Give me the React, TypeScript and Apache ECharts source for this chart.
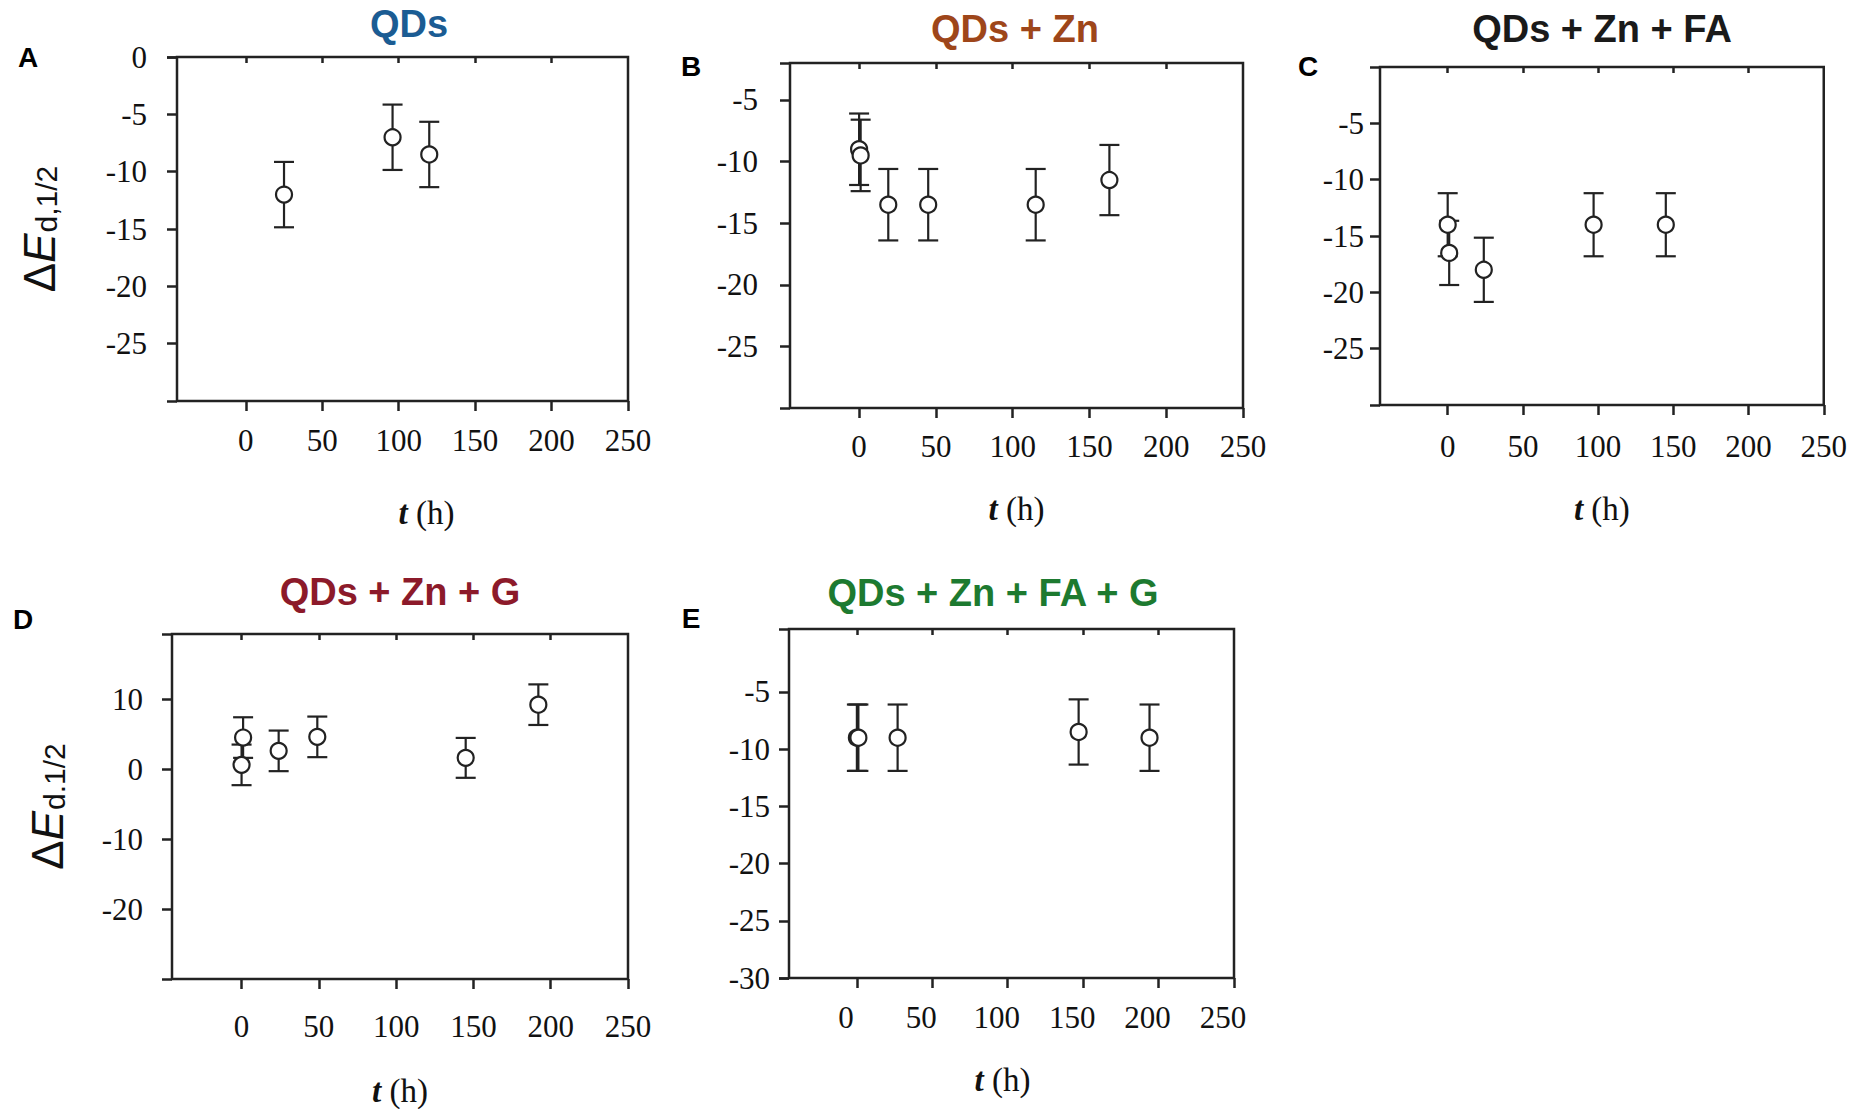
import React, { useEffect, useRef } from "react";
import * as echarts from "echarts";

// ---------- data ----------
const xTickValues = [0, 50, 100, 150, 200, 250];
const topTickValues = [0, 50, 100, 150, 200];

// A: QDs
const timeA = [25, 96, 120];
const valueA = [-12, -7, -8.5];
const errorA = [2.85, 2.85, 2.85];
const yLabelsA = [0, -5, -10, -15, -20, -25];

// B: QDs + Zn
const timeB = [0, 1, 19, 45, 115, 163];
const valueB = [-9, -9.5, -13.5, -13.5, -13.5, -11.5];
const errorB = [2.9, 2.9, 2.9, 2.9, 2.9, 2.85];
const yLabelsB = [-5, -10, -15, -20, -25];

// C: QDs + Zn + FA
const timeC = [0, 1, 24, 97, 145];
const valueC = [-14, -16.5, -18, -14, -14];
const errorC = [2.8, 2.85, 2.85, 2.8, 2.8];
const yLabelsC = [-5, -10, -15, -20, -25];

// D: QDs + Zn + G
const timeD = [1, 0, 24, 49, 145, 192];
const valueD = [4.5, 0.6, 2.6, 4.6, 1.6, 9.2];
const errorD = [2.9, 2.9, 2.9, 2.9, 2.85, 2.9];
const yLabelsD = [10, 0, -10, -20];

// E: QDs + Zn + FA + G
const timeE = [0, 1, 27, 147, 194];
const valueE = [-9, -9, -9, -8.5, -9];
const errorE = [2.9, 2.9, 2.9, 2.85, 2.9];
const yLabelsE = [-5, -10, -15, -20, -25, -30];

// ---------- styling / layout ----------
const SERIF = '"Liberation Serif", "Times New Roman", serif';
const SANS = '"Liberation Sans", Arial, sans-serif';
const INK = "#222222";
const X_MIN = -45;
const X_MAX = 250;

type Panel = {
  letter: string;
  title: string;
  titleColor: string;
  time: number[];
  value: number[];
  err: number[];
  yMin: number;
  yMax: number;
  yLabels: number[];
  grid: { left: number; top: number; width: number; height: number };
  titlePos: [number, number];
  letterPos: [number, number];
  yLabelMargin: number;
  xLabelMargin: number;
  xLabelPad: number[];
  xNameGap: number;
  xNamePad: number[];
  yName?: string;
  yNameGap?: number;
};

const panels: Panel[] = [
  {
    letter: "A", title: "QDs", titleColor: "#1b5c93",
    time: timeA, value: valueA, err: errorA,
    yMin: -30, yMax: 0, yLabels: yLabelsA,
    grid: { left: 177, top: 57, width: 451, height: 344 },
    titlePos: [409, 24], letterPos: [28, 57],
    yLabelMargin: 30, xLabelMargin: 24, xLabelPad: [0, 0, 0, 0],
    xNameGap: 95, xNamePad: [0, 0, 0, 48],
    yName: "{d|Δ}{e|E}{s|d,1/2}", yNameGap: 116,
  },
  {
    letter: "B", title: "QDs + Zn", titleColor: "#9e461a",
    time: timeB, value: valueB, err: errorB,
    yMin: -30, yMax: -2, yLabels: yLabelsB,
    grid: { left: 790, top: 63, width: 453, height: 345 },
    titlePos: [1015, 29], letterPos: [691, 66],
    yLabelMargin: 32, xLabelMargin: 23, xLabelPad: [0, 0, 0, 0],
    xNameGap: 84, xNamePad: [0, 0, 0, 0],
  },
  {
    letter: "C", title: "QDs + Zn + FA", titleColor: "#1a1a1a",
    time: timeC, value: valueC, err: errorC,
    yMin: -30, yMax: 0, yLabels: yLabelsC,
    grid: { left: 1380, top: 67, width: 446, height: 338 },
    titlePos: [1602, 29], letterPos: [1308, 66],
    yLabelMargin: 16, xLabelMargin: 26, xLabelPad: [0, 0, 0, 0],
    xNameGap: 87, xNamePad: [0, 0, 0, 0],
  },
  {
    letter: "D", title: "QDs + Zn + G", titleColor: "#8c1a2a",
    time: timeD, value: valueD, err: errorD,
    yMin: -30, yMax: 19.3, yLabels: yLabelsD,
    grid: { left: 172, top: 634, width: 456, height: 345 },
    titlePos: [400, 592], letterPos: [23, 619],
    yLabelMargin: 29, xLabelMargin: 32, xLabelPad: [0, 0, 0, 0],
    xNameGap: 95, xNamePad: [0, 0, 0, 0],
    yName: "{d|Δ}{e|E}{s|d.1/2}", yNameGap: 103,
  },
  {
    letter: "E", title: "QDs + Zn + FA + G", titleColor: "#1d7a30",
    time: timeE, value: valueE, err: errorE,
    yMin: -30, yMax: 0.5, yLabels: yLabelsE,
    grid: { left: 789, top: 629, width: 445, height: 349 },
    titlePos: [993, 593], letterPos: [691, 618],
    yLabelMargin: 19, xLabelMargin: 24, xLabelPad: [0, 22, 0, 0],
    xNameGap: 85, xNamePad: [0, 18, 0, 0],
  },
];

function buildOption() {
  const grid: any[] = [];
  const xAxis: any[] = [];
  const yAxis: any[] = [];
  const series: any[] = [];
  const graphic: any[] = [];

  const tickFont = {
    fontFamily: SERIF,
    fontSize: 31,
    fontWeight: "normal",
    color: "#111",
  };

  panels.forEach((p, i) => {
    grid.push({
      ...p.grid,
      show: true,
      borderColor: INK,
      borderWidth: 2.5,
      backgroundColor: "transparent",
      containLabel: false,
    });

    // bottom axis
    xAxis.push({
      type: "value",
      gridIndex: i,
      position: "bottom",
      min: X_MIN,
      max: X_MAX,
      axisLine: { show: false, onZero: false },
      splitLine: { show: false },
      axisTick: {
        show: true,
        inside: false,
        length: 10,
        customValues: xTickValues,
        lineStyle: { color: INK, width: 2.5 },
      },
      axisLabel: {
        ...tickFont,
        customValues: xTickValues,
        margin: p.xLabelMargin,
        padding: p.xLabelPad,
      },
      name: "{i|t} (h)",
      nameLocation: "middle",
      nameGap: p.xNameGap,
      nameTextStyle: {
        fontFamily: SERIF,
        fontSize: 33,
        color: "#111",
        padding: p.xNamePad,
        rich: {
          i: { fontFamily: SERIF, fontSize: 33, fontStyle: "italic", fontWeight: "bold", color: "#111" },
        },
      },
    });
    // top axis (inner ticks only)
    xAxis.push({
      type: "value",
      gridIndex: i,
      position: "top",
      min: X_MIN,
      max: X_MAX,
      axisLine: { show: false, onZero: false },
      splitLine: { show: false },
      axisTick: {
        show: true,
        inside: true,
        length: 6,
        customValues: topTickValues,
        lineStyle: { color: INK, width: 2.5 },
      },
      axisLabel: { show: false },
    });

    const yTicks = [p.yMin, ...p.yLabels, p.yMax];
    yAxis.push({
      type: "value",
      gridIndex: i,
      position: "left",
      min: p.yMin,
      max: p.yMax,
      axisLine: { show: false, onZero: false },
      splitLine: { show: false },
      axisTick: {
        show: true,
        length: 10,
        customValues: yTicks,
        lineStyle: { color: INK, width: 2.5 },
      },
      axisLabel: {
        ...tickFont,
        customValues: p.yLabels,
        margin: p.yLabelMargin,
      },
      ...(p.yName
        ? {
            name: p.yName,
            nameLocation: "middle",
            nameRotate: 90,
            nameGap: p.yNameGap,
            nameTextStyle: {
              fontFamily: SANS,
              fontSize: 44,
              color: "#111",
              rich: {
                d: { fontFamily: SANS, fontSize: 44, lineHeight: 44, verticalAlign: "top", color: "#111" },
                e: { fontFamily: SANS, fontSize: 44, lineHeight: 44, fontStyle: "italic", verticalAlign: "top", color: "#111" },
                s: { fontFamily: SANS, fontSize: 30, lineHeight: 30, padding: [21, 0, 0, 1], verticalAlign: "bottom", color: "#111" },
              },
            },
          }
        : {}),
    });

    const errData = p.time.map((t, k) => [t, p.value[k], p.err[k]]);
    const ptData = p.time.map((t, k) => [t, p.value[k]]);

    series.push({
      type: "custom",
      xAxisIndex: 2 * i,
      yAxisIndex: i,
      data: errData,
      encode: { x: 0, y: 1 },
      z: 2,
      renderItem: (params: any, api: any) => {
        const x = api.value(0);
        const y = api.value(1);
        const e = api.value(2);
        const hi = api.coord([x, y + e]);
        const lo = api.coord([x, y - e]);
        const cap = 10;
        const style = { stroke: INK, lineWidth: 2.2 };
        return {
          type: "group",
          children: [
            { type: "line", shape: { x1: hi[0], y1: hi[1], x2: lo[0], y2: lo[1] }, style },
            { type: "line", shape: { x1: hi[0] - cap, y1: hi[1], x2: hi[0] + cap, y2: hi[1] }, style },
            { type: "line", shape: { x1: lo[0] - cap, y1: lo[1], x2: lo[0] + cap, y2: lo[1] }, style },
          ],
        };
      },
    });
    series.push({
      type: "scatter",
      xAxisIndex: 2 * i,
      yAxisIndex: i,
      data: ptData,
      symbol: "circle",
      symbolSize: 16,
      z: 3,
      itemStyle: { color: "#ffffff", borderColor: INK, borderWidth: 2.2, opacity: 1 },
    });

    graphic.push({
      type: "text",
      x: p.titlePos[0],
      y: p.titlePos[1],
      style: {
        text: p.title,
        fontFamily: SANS,
        fontSize: 38,
        fontWeight: "bold",
        fill: p.titleColor,
        align: "center",
        verticalAlign: "middle",
      },
    });
    graphic.push({
      type: "text",
      x: p.letterPos[0],
      y: p.letterPos[1],
      style: {
        text: p.letter,
        fontFamily: SANS,
        fontSize: 28,
        fontWeight: "bold",
        fill: "#000",
        align: "center",
        verticalAlign: "middle",
      },
    });
  });

  return {
    animation: false,
    backgroundColor: "#ffffff",
    grid,
    xAxis,
    yAxis,
    series,
    graphic,
  };
}

export default function App() {
  const ref = useRef<HTMLDivElement>(null);
  useEffect(() => {
    if (!ref.current) return;
    const chart = echarts.init(ref.current, undefined, { renderer: "svg" });
    chart.setOption(buildOption() as any);
    return () => chart.dispose();
  }, []);
  return (
    <div
      ref={ref}
      style={{ position: "absolute", left: 0, top: 0, width: "1850px", height: "1109px", background: "#fff" }}
    />
  );
}
